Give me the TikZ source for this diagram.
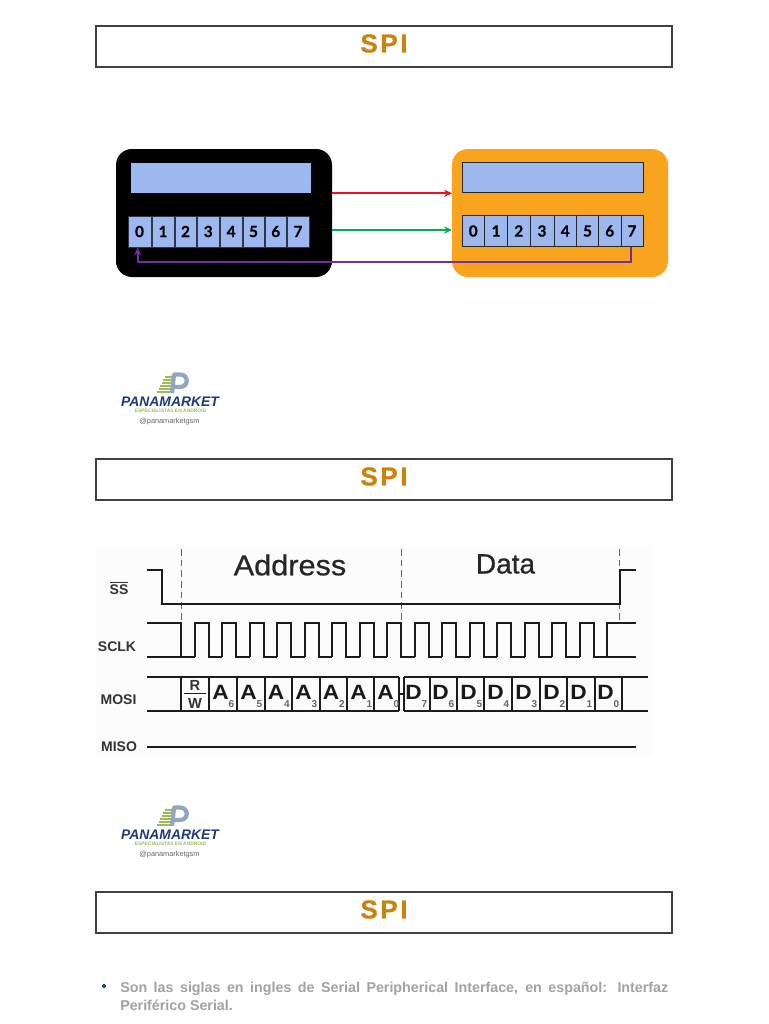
\documentclass[tikz,border=0pt]{standalone}
\usepackage{fontspec}
\setmainfont{Liberation Sans}
\newfontfamily\ttlfont[LetterSpace=10,BoldFeatures={FakeBold=0.8}]{Liberation Sans}
\newfontfamily\digfont[BoldFeatures={FakeBold=0.6}]{Lato}
\newfontfamily\hvyfont[FakeBold=0.7]{Liberation Sans}
\usetikzlibrary{arrows.meta}
\definecolor{titlec}{HTML}{C9840F}
\definecolor{regblue}{HTML}{9DB8EE}
\definecolor{slaveor}{HTML}{F9A41E}
\definecolor{wireinv}{HTML}{7030A0}
\definecolor{wiregr}{HTML}{00B050}
\definecolor{wirered}{HTML}{F01020}
\definecolor{navy}{HTML}{1F3A78}
\definecolor{logog}{HTML}{9DBB5A}
\definecolor{logop}{HTML}{93A5C0}
\definecolor{bodyg}{HTML}{A2A2A2}
\definecolor{wave}{HTML}{1C1C1C}
\tikzset{
 titlebox/.style={draw=black!75,line width=1.1pt,fill=white,minimum width=576*0.75pt,minimum height=41*0.75pt,inner sep=0,outer sep=0},
 titletext/.style={text=titlec,font=\ttlfont\bfseries\fontsize{19.5}{21}\selectfont,inner sep=0},
 devbox/.style={rounded corners=12pt,minimum width=216*0.75pt,minimum height=128*0.75pt,inner sep=0,outer sep=0},
 regbox/.style={fill=regblue,inner sep=0,outer sep=0,minimum height=30.5*0.75pt},
 cellbox/.style={fill=regblue,draw=#1,line width=0.6pt,inner sep=0,outer sep=0,minimum height=31*0.75pt,font=\digfont\bfseries\fontsize{11.5}{12}\selectfont,text=black},
 wire/.style={line width=1.4pt,-{Stealth[length=6pt,width=5.5pt]}},
 wv/.style={draw=wave,line width=1.5pt,line cap=butt,line join=miter},
 dashv/.style={draw=black!60,line width=0.7pt,dash pattern=on 5pt off 3pt},
 siglabel/.style={font=\bfseries\fontsize{10.5}{12}\selectfont,text=black!80,inner sep=0},
 bitlabel/.style={font=\bfseries\fontsize{15.5}{16}\selectfont,text=black!90,inner sep=0,xscale=1.1,transform shape},
 subbit/.style={font=\bfseries\fontsize{7.5}{8}\selectfont,text=black!60,inner sep=0},
 panalogo/.pic={
  \foreach \i in {0,1,2,3,4,5}{\draw[logog,line width=1pt] ({157+\i*1.6},{392-\i*3}) -- ({172+\i*0.3},{392-\i*3});}
  \draw[logop,line width=3.2pt,line join=round] (172,393) -- (174,374.5) -- (180,374.5) .. controls (189,374.5) and (189,387) .. (180,387) -- (173,387);
  \node[inner sep=0,font=\bfseries\itshape\fontsize{10.4}{12}\selectfont,text=navy] (-name) at (170,401.5) {PANAMARKET};
  \node[inner sep=0,font=\bfseries\fontsize{3.7}{4}\selectfont,text=logog] (-tag) at (170.5,411) {ESPECIALISTAS EN ANDROID};
  \node[inner sep=0,font=\fontsize{5.5}{7}\selectfont,text=black!60] (-handle) at (169.5,422) {@panamarketgsm};
 },
}
\begin{document}
\begin{tikzpicture}[x=0.75pt,y=-0.75pt]
\useasboundingbox (0,0) rectangle (768,1024);
\fill[white] (0,0) rectangle (768,1024);
% title bars
\foreach \nm/\yy in {one/46.5,two/479.5,three/912.5}{
 \node[titlebox] (title\nm) at (384,\yy) {};
 \node[titletext] (titlet\nm) at (384,{\yy-3}) {SPI};
}
% devices
\node[devbox,fill=black] (master) at (224,213) {};
\node[devbox,fill=slaveor] (slave) at (560,213) {};
\node[regbox,minimum width=180*0.75pt] (mreg) at (221,178) {};
\node[regbox,draw=black!85,line width=0.7pt,minimum width=181*0.75pt] (sreg) at (552.5,177.5) {};
\foreach \n/\a/\b in {0/128/151,1/152/174,2/175/196,3/197/219.5,4/220.5/242,5/243/264,6/265/286.5,7/287/309}{
 \node[cellbox=black!70!regblue,minimum width={(\b-\a)*0.75pt}] (m\n) at ({(\a+\b)/2},231.5) {\n};
}
\foreach \n/\a/\b in {0/462/484.5,1/484.5/507.5,2/507.5/530,3/530/554,4/554/576.5,5/576.5/598.5,6/598.5/621,7/621/643}{
 \node[cellbox=black!85,minimum width={(\b-\a)*0.75pt}] (s\n) at ({(\a+\b)/2},231) {\n};
}
% connectors
\coordinate (gm) at (332,230);
\coordinate (gs) at (452,230);
\coordinate (pm) at (400,262);
\coordinate (pend) at (137.7,247.5);
\draw[wire,wirered] (mreg.south -| master.east) -- (mreg.south -| slave.west);
\draw[wire,wiregr] (gm) -- (gs);
\draw[wire,wireinv] (s7.south -| 631,0) -- (631,262) -- (pm) -- (pend |- pm) -- (pend);
% logos
\pic (logoa) at (0,0) {panalogo};
\pic (logob) at (0,433) {panalogo};
% timing panel
\fill[black!1] (96,545) rectangle (652,755);
\node[inner sep=0,font=\hvyfont\fontsize{21.5}{24}\selectfont,text=black!85,xscale=1.07,transform shape] (addr) at (290,565) {Address};
\node[inner sep=0,font=\hvyfont\fontsize{21}{24}\selectfont,text=black!85] (data) at (505.5,564) {Data};
\node[siglabel] (lss) at (119,588) {$\overline{\hbox{SS}}$};
\node[siglabel] (lsclk) at (117,646.5) {SCLK};
\node[siglabel] (lmosi) at (118.5,699.5) {MOSI};
\node[siglabel] (lmiso) at (119,746.5) {MISO};
\foreach \xx in {181,401.5,619.5}{\draw[dashv] (\xx,549) -- (\xx,622);}
% SS
\draw[wv] (147,570) -- (161.5,570) -- (161.5,603.5) -- (620,603.5) -- (620,570) -- (636,570);
% SCLK
\draw[wv] (147,623) -- (181,623) -- (181,657);
\draw[wv] (147,657) -- (194.75,657);
\foreach \k in {1,3,...,29}{
 \draw[wv] ({181+13.75*\k},657) -- ({181+13.75*\k},623) -- ({181+13.75*(\k+1)},623) -- ({181+13.75*(\k+1)},657) -- ({181+13.75*(\k+2)},657);
}
\draw[wv] (607.25,657) -- (607.25,623) -- (636,623);
\draw[wv] (607.25,657) -- (636,657);
% MOSI
\draw[wv] (147,677) -- (399,677);
\draw[wv] (147,711) -- (399,711);
\draw[wv] (404,677) -- (648,677);
\draw[wv] (404,711) -- (648,711);
\draw[wv,line width=0.9pt] (399,694) -- (404,694);
\foreach \xx in {181,209,237,264.5,292,319.5,347,374,399,404,429.5,457,483.5,511.5,540,567,594.5,622}{
 \draw[wv] (\xx,677) -- (\xx,711);
}
\draw[wv,line width=0.8pt] (184,693.5) -- (206,693.5);
\node[inner sep=0,font=\bfseries\fontsize{11}{12}\selectfont,text=black!80] (rbit) at (195,685.5) {R};
\node[inner sep=0,font=\bfseries\fontsize{11}{12}\selectfont,text=black!80] (wbit) at (195,703) {W};
\foreach \t/\s/\xx in {A/6/219,A/5/247,A/4/274.5,A/3/302,A/2/329.5,A/1/357,A/0/384,D/7/412,D/6/439,D/5/467,D/4/494,D/3/522,D/2/550,D/1/577,D/0/604}{
 \node[bitlabel] (b\t\s) at ({\xx+1.5},692.5) {\t};
 \node[subbit] (s\t\s) at ({\xx+12.5},704.5) {\s};
}
% MISO
\draw[wv] (147,747) -- (636,747);
% body text
\node[circle,fill=navy,inner sep=0,minimum size=3pt] (bull) at (104,986) {};
\node[inner sep=0,anchor=north west,text width=548*0.75pt,align=justify,text=bodyg,font=\bfseries\fontsize{10.7}{13.5}\selectfont] (body) at (120,981.5) {Son las siglas en ingles de Serial Peripherical Interface, en español: Interfaz\linebreak Periférico Serial.};
\end{tikzpicture}
\end{document}
